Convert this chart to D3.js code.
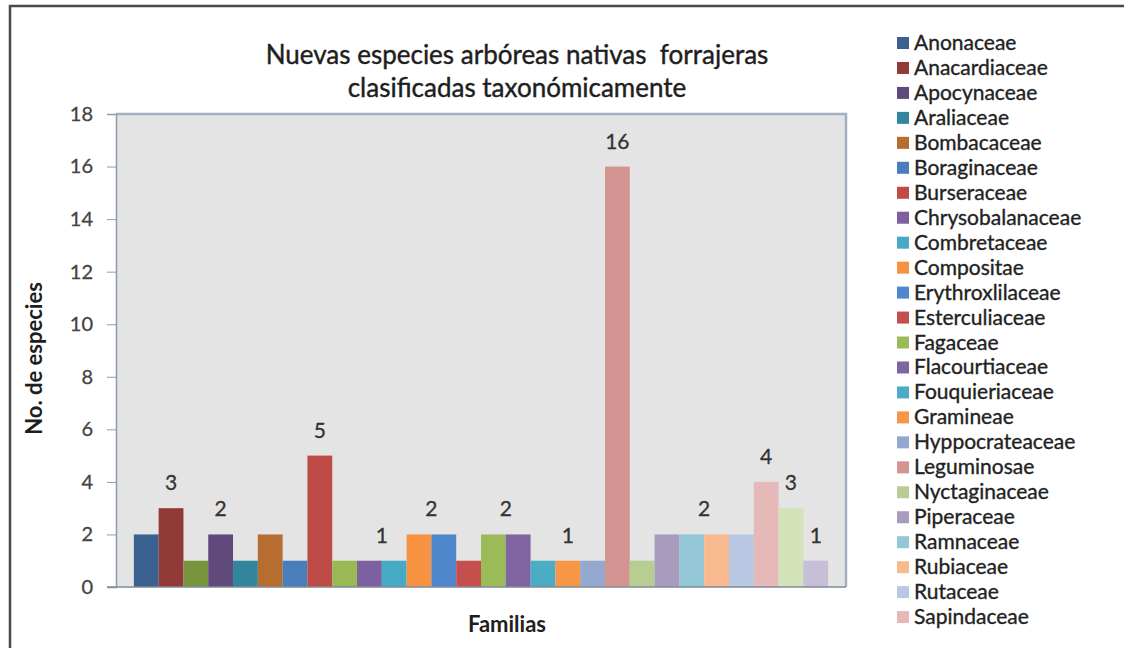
<!DOCTYPE html>
<html>
<head>
<meta charset="utf-8">
<script src="https://cdn.jsdelivr.net/npm/d3@7"></script>
<style>
  html, body { margin: 0; padding: 0; background: #ffffff; }
  svg { display: block; }
  text { font-family: Lato, "Open Sans", sans-serif; }
</style>
</head>
<body>
<svg id="chart" width="1124" height="648"></svg>
<script>
// Familias (one series per family; empty names are not listed in the legend)
const familias = [
  "Anonaceae", "Anacardiaceae", "", "Apocynaceae", "Araliaceae", "Bombacaceae",
  "Boraginaceae", "Burseraceae", "", "Chrysobalanaceae", "Combretaceae", "Compositae",
  "Erythroxlilaceae", "Esterculiaceae", "Fagaceae", "Flacourtiaceae", "Fouquieriaceae", "Gramineae",
  "Hyppocrateaceae", "Leguminosae", "Nyctaginaceae", "Piperaceae", "Ramnaceae", "Rubiaceae",
  "Rutaceae", "Sapindaceae", "", ""
];

// Número de especies por familia
const especies = [2, 3, 1, 2, 1, 2, 1, 5, 1, 1, 1, 2, 2, 1, 2, 2, 1, 1, 1, 16, 1, 2, 2, 2, 2, 4, 3, 1];

// Series colours
const colores = [
  "#3b6190", "#923a37", "#77933c", "#604a7b", "#31859c", "#b76d2f",
  "#4a7ebb", "#be4b48", "#98b954", "#7d60a0", "#46aac5", "#f69240",
  "#4f86cc", "#c4504d", "#9bbb59", "#8064a2", "#4bacc6", "#f79646",
  "#93a7cf", "#d49492", "#b7cd92", "#a99bbe", "#93c7d7", "#f9b98f",
  "#b8c7e2", "#e4b9b8", "#d3e2b9", "#c7bfd7"
];

// Value labels: each covers a run of bars (first, last index) sharing one value
const etiquetas = [[1, 1], [3, 3], [7, 7], [9, 10], [11, 12], [14, 15], [16, 18], [19, 19], [21, 24], [25, 25], [26, 26], [27, 27]];

// Y axis ticks
const ticksY = [0, 2, 4, 6, 8, 10, 12, 14, 16, 18];

const titulo = ["Nuevas especies arbóreas nativas  forrajeras", "clasificadas taxonómicamente"];
const tituloY = "No. de especies";
const tituloX = "Familias";

const svg = d3.select("#chart");

// Outer frame
svg.append("rect")
  .attr("x", 10).attr("y", 6)
  .attr("width", 1130).attr("height", 660)
  .attr("fill", "#ffffff")
  .attr("stroke", "#4a4a4a").attr("stroke-width", 2.5);

const plot = { left: 116, right: 846, top: 114, bottom: 587 };

const y = d3.scaleLinear().domain([0, 18]).range([plot.bottom, plot.top]);
const x = d3.scaleBand()
  .domain(d3.range(especies.length))
  .range([plot.left, plot.right])
  .paddingInner(0)
  .paddingOuter(0.72);

// Plot area
svg.append("rect")
  .attr("x", plot.left).attr("y", plot.top)
  .attr("width", plot.right - plot.left).attr("height", plot.bottom - plot.top)
  .attr("fill", "#e4e4e4");

svg.append("path")
  .attr("d", `M${plot.left},${plot.top}H${plot.right}V${plot.bottom}`)
  .attr("fill", "none")
  .attr("stroke", "#a3aebf").attr("stroke-width", 2.5);

// Bars
svg.append("g")
  .selectAll("rect")
  .data(especies)
  .join("rect")
  .attr("x", (d, i) => x(i))
  .attr("y", d => y(d))
  .attr("width", x.bandwidth())
  .attr("height", d => y(0) - y(d))
  .attr("fill", (d, i) => colores[i]);

// Y axis
const ejeY = svg.append("g")
  .attr("transform", `translate(${plot.left},0)`)
  .call(d3.axisLeft(y).tickValues(ticksY).tickSize(9).tickPadding(14).tickFormat(d3.format("d")));
ejeY.select(".domain").attr("stroke", "#8c9bb0").attr("stroke-width", 1.5);
ejeY.selectAll(".tick line").attr("stroke", "#8c9bb0");
ejeY.selectAll(".tick text")
  .attr("fill", "#444444")
  .attr("stroke", "#444444").attr("stroke-width", 0.3)
  .style("font-size", "20px");

// X axis baseline
svg.append("line")
  .attr("x1", plot.left - 9).attr("x2", plot.right)
  .attr("y1", y(0)).attr("y2", y(0))
  .attr("stroke", "#7f8a99").attr("stroke-width", 1.5);

// Value labels
svg.append("g")
  .selectAll("text")
  .data(etiquetas)
  .join("text")
  .attr("x", d => (x(d[0]) + x(d[1]) + x.bandwidth()) / 2)
  .attr("y", d => y(especies[d[0]]) - 18)
  .attr("text-anchor", "middle")
  .attr("fill", "#333333")
  .attr("stroke", "#333333").attr("stroke-width", 0.3)
  .style("font-size", "21px")
  .text(d => especies[d[0]]);

// Title
svg.append("g")
  .selectAll("text")
  .data(titulo)
  .join("text")
  .attr("x", 517)
  .attr("y", (d, i) => 64 + i * 33)
  .attr("text-anchor", "middle")
  .attr("fill", "#1e1e1e")
  .attr("stroke", "#1e1e1e").attr("stroke-width", 0.4)
  .style("font-size", "26px")
  .style("font-weight", "400")
  .style("white-space", "pre")
  .text(d => d);

// Axis titles
svg.append("text")
  .attr("transform", `translate(42,${y(9) + 8}) rotate(-90)`)
  .attr("text-anchor", "middle")
  .attr("fill", "#1e1e1e")
  .style("font-size", "22px")
  .style("font-weight", "700")
  .text(tituloY);

svg.append("text")
  .attr("x", 507).attr("y", 632)
  .attr("text-anchor", "middle")
  .attr("fill", "#1e1e1e")
  .style("font-size", "22px")
  .style("font-weight", "700")
  .text(tituloX);

// Legend
const leyenda = familias
  .map((nombre, i) => ({ nombre, color: colores[i] }))
  .filter(d => d.nombre !== "");

const item = svg.append("g")
  .selectAll("g")
  .data(leyenda)
  .join("g")
  .attr("transform", (d, i) => `translate(897,${43 + i * 24.96})`);

item.append("rect")
  .attr("x", 0).attr("y", -6)
  .attr("width", 12).attr("height", 12)
  .attr("fill", d => d.color);

item.append("text")
  .attr("x", 17).attr("y", 7)
  .attr("fill", "#222222")
  .attr("stroke", "#222222").attr("stroke-width", 0.35)
  .style("font-size", "21px")
  .text(d => d.nombre);
</script>
</body>
</html>
